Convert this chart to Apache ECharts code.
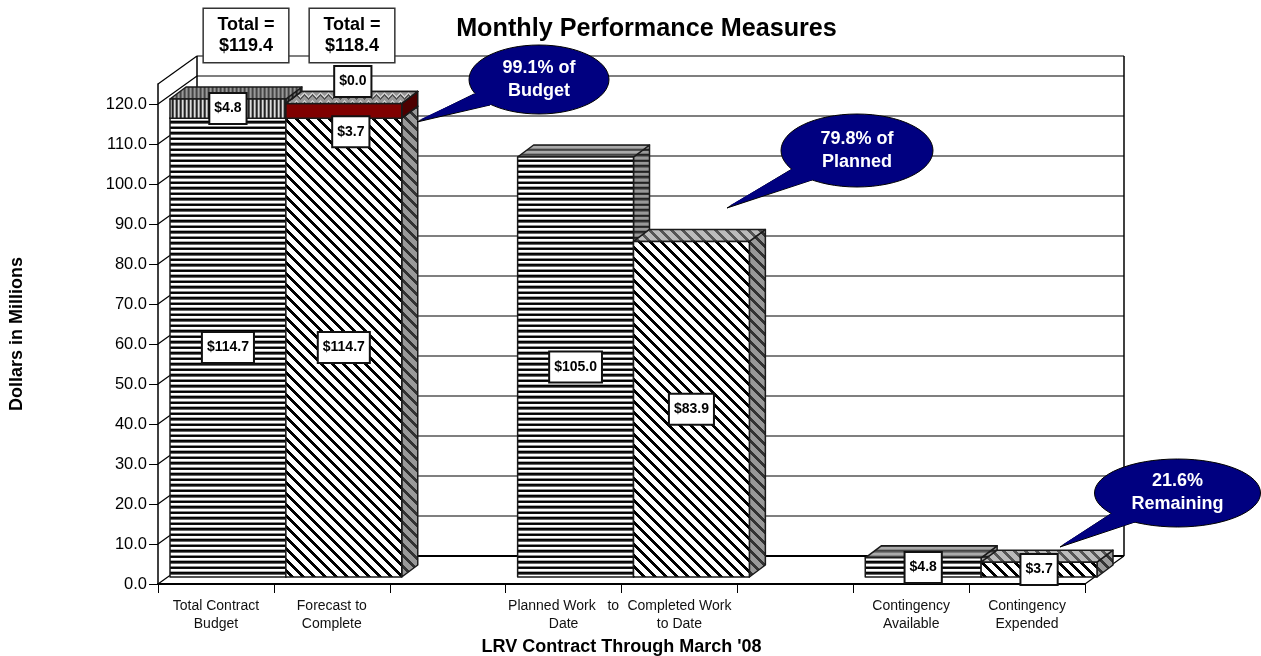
<!DOCTYPE html>
<html><head><meta charset="utf-8">
<style>html,body{margin:0;padding:0;background:#fff}#c{width:1261px;height:656px}</style>
<script src="https://cdn.jsdelivr.net/npm/echarts@6/dist/echarts.min.js"></script>
</head><body><div id="c"></div>
<script>
const categories = ['Total Contract\nBudget','Forecast to\nComplete','','Planned Work   to\nDate','Completed Work\nto Date','','Contingency\nAvailable','Contingency\nExpended'];
const baseValues = [114.7,114.7,null,105.0,83.9,null,4.8,3.7];
const upperValues = [4.8,3.7,null,null,null,null,null,null];
const zeroValues = [null,0.0,null,null,null,null,null,null];
const tickValues = [0,10,20,30,40,50,60,70,80,90,100,110,120];
const axisMax = 125;
const totalLabels = ['Total =\n$119.4','Total =\n$118.4'];
const calloutTexts = ['99.1% of\nBudget','79.8% of\nPlanned','21.6%\nRemaining'];

const FONT = '"Liberation Sans", Arial, sans-serif';
const WALL = [39,-28];      // depth of the side wall
const BAR_SHIFT = [12,-7];  // bar front plane
const BAR_DEPTH = [16,-12]; // bar thickness

function tile(w,h,fn){const c=document.createElement('canvas');c.width=w;c.height=h;const g=c.getContext('2d');
  for(let y=0;y<h;y++)for(let x=0;x<w;x++){g.fillStyle=fn(x,y);g.fillRect(x,y,1,1);}
  return {image:c,repeat:'repeat'};}
const rows=a=>tile(1,a.length,(x,y)=>a[y]);
const cols=a=>tile(a.length,1,(x,y)=>a[x]);
const diag=(d,l)=>tile(11,11,(x,y)=>(((x-y)%11+11)%11<4)?d:l);
const zig=tile(8,8,(x,y)=>{const k=Math.abs((x%8)-4);const v=(y+k)%8;return v<2?'#ccc':(v<4?'#555':'#999');});
const looks={
  h:{front:rows(['#000','#111','#666','#fff','#fff','#888','#000','#111','#fff','#fff','#aaa']),
     side:rows(['#222','#333','#666','#999','#999','#777','#222','#333','#999','#999','#777']),
     top:rows(['#444','#555','#777','#aaa','#aaa','#888','#444','#555','#aaa','#aaa','#888'])},
  d:{front:diag('#000','#fff'),side:diag('#333','#999'),top:diag('#555','#bbb')},
  v:{front:cols(['#222','#555','#ddd','#999']),side:cols(['#222','#444','#777','#555']),top:cols(['#444','#666','#999','#777'])},
  r:{front:'#800000',side:'#4d0000',top:'#660000'},
  z:{front:'#800000',side:'#4d0000',top:zig}
};
const baseLook=['h','d',null,'h','d',null,'h','d'];

// stacked 3D segments in painter's order
const segments=[];
categories.forEach((c,i)=>{
  if(baseValues[i]==null)return;
  let s=0;
  segments.push([i,s,s+baseValues[i],baseLook[i]]);s+=baseValues[i];
  if(upperValues[i]!=null){segments.push([i,s,s+upperValues[i],i===0?'v':'r']);s+=upperValues[i];}
  if(zeroValues[i]!=null){segments.push([i,s,s+zeroValues[i],'z']);}
});

// value boxes: category, value at box centre, text, pixel nudge
const boxes=[
 [0,baseValues[0]/2,'$114.7',0,0],
 [0,baseValues[0]+upperValues[0]/2,'$4.8',0,0],
 [1,baseValues[1]/2,'$114.7',0,0],
 [1,baseValues[1]+upperValues[1]/2,'$3.7',7,21],
 [1,baseValues[1]+upperValues[1],'$0.0',9,-22],
 [3,baseValues[3]/2,'$105.0',0,0],
 [4,baseValues[4]/2,'$83.9',0,0],
 [6,baseValues[6]/2,'$4.8',0,0],
 [7,baseValues[7]/2,'$3.7',0,0]
];

const wallValues=[...tickValues,axisMax];

function line(a,b,w,color){return {type:'line',shape:{x1:a[0],y1:a[1],x2:b[0],y2:b[1]},style:{stroke:color||'#000',lineWidth:w||1}};}

const chart=echarts.init(document.getElementById('c'));

function callout(cx,cy,rx,ry,tip,b1,b2,text,i){
  const fill='#000080';
  return [
   {type:'polygon',z:100,shape:{points:[tip,b1,b2]},style:{fill,stroke:'#000',lineWidth:1}},
   {type:'ellipse',z:101,shape:{cx,cy,rx,ry},style:{fill,stroke:'#000',lineWidth:1}},
   {type:'polygon',z:102,shape:{points:[[tip[0]+2*Math.sign(cx-tip[0]),tip[1]+2*Math.sign(cy-tip[1])],b1,[cx,cy],b2]},style:{fill}},
   {type:'text',z:103,x:cx,y:cy,style:{text,fill:'#fff',font:'bold 18px '+FONT,align:'center',verticalAlign:'middle',lineHeight:23}}
  ];
}
function totalBox(cx,text){
  return {type:'text',z:90,x:cx,y:35.5,style:{text,fill:'#000',font:'bold 18px '+FONT,align:'center',verticalAlign:'middle',lineHeight:21,
    backgroundColor:'#fff',borderColor:'#333',borderWidth:1.5,padding:[5.5,13.5]}};
}

chart.setOption({
  animation:false,
  title:{text:'Monthly Performance Measures',left:641.5,top:12,textAlign:'center',textStyle:{fontFamily:FONT,fontWeight:'bold',fontSize:25.2,color:'#000'}},
  grid:{left:158,top:84,width:927,height:500,containLabel:false,outerBoundsMode:'none'},
  xAxis:{type:'category',data:categories,
    axisLine:{lineStyle:{color:'#000',width:2}},
    axisTick:{show:true,length:9,lineStyle:{color:'#000',width:1},alignWithLabel:false},
    axisLabel:{interval:0,fontFamily:FONT,fontSize:14,color:'#111',margin:13,lineHeight:18},
    name:'LRV Contract Through March \'08',nameLocation:'middle',nameGap:54,
    nameTextStyle:{fontFamily:FONT,fontWeight:'bold',fontSize:18,color:'#000'}},
  yAxis:{type:'value',min:0,max:axisMax,interval:10,
    axisLine:{show:true,lineStyle:{color:'#000',width:1.5}},
    axisTick:{show:true,length:9,lineStyle:{color:'#000',width:1},customValues:tickValues},
    axisLabel:{fontFamily:FONT,fontSize:16.5,color:'#000',margin:11,customValues:tickValues,formatter:v=>v.toFixed(1)},
    splitLine:{show:false},
    name:'Dollars in Millions',nameLocation:'middle',nameGap:131.5,
    nameTextStyle:{fontFamily:FONT,fontWeight:'bold',fontSize:18,color:'#000'}},
  series:[
   {type:'custom',name:'walls',z:2,clip:false,silent:true,
    data:wallValues.map(v=>[0,v]),
    renderItem(p,api){
      const cs=p.coordSys;const v=api.value(1);
      const y=api.coord([0,v])[1];
      const L=[cs.x,y],B=[cs.x+WALL[0],y+WALL[1]],R=[cs.x+cs.width+WALL[0],y+WALL[1]];
      const kids=[line(L,B,1.2),line(B,R,v===0?2:1.2)];
      if(v===0){
        const topY=api.coord([0,axisMax])[1]+WALL[1];
        kids.push(line([B[0],topY],B,1.5));
        kids.push(line([R[0],topY],R,1.5));
        kids.push(line([cs.x+cs.width,y],R,1.2));
      }
      return {type:'group',children:kids};
    }},
   {type:'custom',name:'bars',z:3,clip:false,
    data:segments.map(s=>s.slice(0,3)),
    renderItem(p,api){
      const seg=segments[p.dataIndex];const look=looks[seg[3]];
      const c0=api.coord([api.value(0),api.value(1)]),c1=api.coord([api.value(0),api.value(2)]);
      const w=api.size([1,0])[0];
      const x0=c0[0]-w/2+BAR_SHIFT[0],x1=x0+w;
      const yb=c0[1]+BAR_SHIFT[1],yt=c1[1]+BAR_SHIFT[1];
      const dx=BAR_DEPTH[0],dy=BAR_DEPTH[1];
      const st=f=>({fill:f,stroke:'#1a1a1a',lineWidth:1.5,lineJoin:'round'});
      const kids=[
       {type:'polygon',shape:{points:[[x1,yb],[x1+dx,yb+dy],[x1+dx,yt+dy],[x1,yt]]},style:st(look.side)},
       {type:'polygon',shape:{points:[[x0,yt],[x1,yt],[x1+dx,yt+dy],[x0+dx,yt+dy]]},style:st(look.top)}
      ];
      if(yb-yt>0.01)kids.push({type:'polygon',shape:{points:[[x0,yb],[x1,yb],[x1,yt],[x0,yt]]},style:st(look.front)});
      return {type:'group',children:kids};
    }},
   {type:'custom',name:'values',z:5,clip:false,
    data:boxes.map(b=>[b[0],b[1]]),
    renderItem(p,api){
      const b=boxes[p.dataIndex];
      const c=api.coord([api.value(0),api.value(1)]);
      const w=api.size([1,0])[0];
      const cx=c[0]-w/2+BAR_SHIFT[0]+w/2+b[3];
      const cy=c[1]+BAR_SHIFT[1]+b[4];
      return {type:'text',x:cx,y:cy,style:{text:b[2],fill:'#000',font:'bold 14px '+FONT,align:'center',verticalAlign:'middle',
        backgroundColor:'#fff',borderColor:'#111',borderWidth:2,padding:[7.5,4]}};
    }}
  ],
  graphic:{elements:[
    totalBox(246,totalLabels[0]),totalBox(352,totalLabels[1]),
    ...callout(539,79.5,70,34.5,[417,122],[474,94],[490,105],calloutTexts[0]),
    ...callout(857,150.5,76,36.5,[727,208],[792,169],[812,180],calloutTexts[1]),
    ...callout(1177.5,493,83,34,[1060,547],[1112,513],[1135,522],calloutTexts[2])
  ]}
});
</script></body></html>
